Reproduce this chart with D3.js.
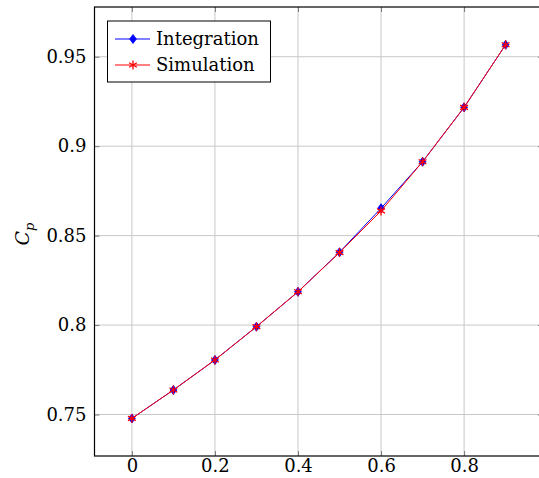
<!DOCTYPE html>
<html><head><meta charset="utf-8">
<script src="https://cdn.jsdelivr.net/npm/d3@7"></script>
<style>body{margin:0;background:#fff}svg{display:block}text{font-family:"DejaVu Serif",serif}</style>
</head><body>
<svg id="c" width="539" height="478"></svg>
<script>
const xValues = [0, 0.1, 0.2, 0.3, 0.4, 0.5, 0.6, 0.7, 0.8, 0.9];
const integration = [0.7478, 0.7637, 0.7805, 0.7991, 0.8186, 0.8407, 0.8653, 0.8913, 0.9217, 0.9567];
const simulation  = [0.7478, 0.7637, 0.7805, 0.7991, 0.8186, 0.8405, 0.8638, 0.8913, 0.9217, 0.9567];
const xTicks = [0, 0.2, 0.4, 0.6, 0.8];
const yTicks = [0.75, 0.8, 0.85, 0.9, 0.95];
const seriesNames = ["Integration", "Simulation"];

const svg = d3.select("#c");
const x = d3.scaleLinear().domain([-0.09, 0.99]).range([94.5, 543]);
const y = d3.scaleLinear().domain([0.7268, 0.9778]).range([456, 7]);
const L = 94.5, R = 543, T = 7, B = 456;

// grid
const g = svg.append("g");
g.selectAll(".gx").data(xTicks).join("line")
  .attr("x1", d => x(d)).attr("x2", d => x(d)).attr("y1", T).attr("y2", B)
  .attr("stroke", "#c8c8c8").attr("stroke-width", 1);
g.selectAll(".gy").data(yTicks).join("line")
  .attr("y1", d => y(d)).attr("y2", d => y(d)).attr("x1", L).attr("x2", R)
  .attr("stroke", "#c8c8c8").attr("stroke-width", 1);

// axes with inward ticks
const tickLen = 5;
const FS = "18px";
const axB = d3.axisBottom(x).tickValues(xTicks).tickSize(-tickLen).tickFormat(d => d3.format("")(d));
const axL = d3.axisLeft(y).tickValues(yTicks).tickSize(-tickLen).tickPadding(8).tickFormat(d => String(+d.toFixed(2)));
const axT = d3.axisTop(x).tickValues(xTicks).tickSize(-tickLen).tickFormat("");
const axR = d3.axisRight(y).tickValues(yTicks).tickSize(-tickLen).tickFormat("");
function style(sel){
  sel.select(".domain").remove();
  sel.selectAll(".tick line").attr("stroke", "#7a7a7a").attr("stroke-width", 1);
  sel.selectAll(".tick text").attr("fill", "#000").style("font-size", FS).style("font-family", '"DejaVu Serif", serif');
}
svg.append("g").attr("transform", `translate(0,${B})`).call(axB).call(style)
  .selectAll(".tick text").attr("y", 16).attr("dy", 0);
svg.append("g").attr("transform", `translate(${L},0)`).call(axL).call(style);
svg.append("g").attr("transform", `translate(0,${T})`).call(axT).call(style);
svg.append("g").attr("transform", `translate(${R},0)`).call(axR).call(style);

// frame
svg.append("rect").attr("x", L).attr("y", T).attr("width", R - L).attr("height", B - T)
  .attr("fill", "none").attr("stroke", "#000").attr("stroke-width", 1.2);

// y label
svg.append("text").attr("transform", `translate(29,234) rotate(-90)`)
  .attr("text-anchor", "middle").style("font-size", "19px").style("font-style", "italic")
  .html('C<tspan dy="5" style="font-size:13px">p</tspan>');

const line = d3.line().x(d => x(d[0])).y(d => y(d[1]));
const intData = xValues.map((v, i) => [v, integration[i]]);
const simData = xValues.map((v, i) => [v, simulation[i]]);

function diamond(sel, cx, cy){
  sel.append("path").attr("d", `M${cx},${cy-4.5}L${cx+3.4},${cy}L${cx},${cy+4.5}L${cx-3.4},${cy}Z`)
    .attr("fill", "#0000ff").attr("stroke", "#0000ff").attr("stroke-width", 0.8);
}
function asterisk(sel, cx, cy){
  const r = 4.5;
  let d = "";
  for (let k = 0; k < 3; k++) {
    const a = Math.PI / 2 + k * Math.PI / 3;
    d += `M${cx + r*Math.cos(a)},${cy - r*Math.sin(a)}L${cx - r*Math.cos(a)},${cy + r*Math.sin(a)}`;
  }
  sel.append("path").attr("d", d).attr("stroke", "#ff0000").attr("stroke-width", 1.3).attr("fill", "none");
}

const plot = svg.append("g");
plot.append("path").datum(intData).attr("d", line).attr("fill", "none").attr("stroke", "#0000ff").attr("stroke-width", 1);
intData.forEach(d => diamond(plot, x(d[0]), y(d[1])));
plot.append("path").datum(simData).attr("d", line).attr("fill", "none").attr("stroke", "#ff0000").attr("stroke-width", 1);
simData.forEach(d => asterisk(plot, x(d[0]), y(d[1])));

// legend
const lg = svg.append("g");
lg.append("rect").attr("x", 107.5).attr("y", 21).attr("width", 163).attr("height", 61)
  .attr("fill", "#fff").attr("stroke", "#000").attr("stroke-width", 1);
const rows = [39, 65];
[0, 1].forEach(i => {
  const col = i === 0 ? "#0000ff" : "#ff0000";
  lg.append("line").attr("x1", 115).attr("x2", 150).attr("y1", rows[i]).attr("y2", rows[i]).attr("stroke", col).attr("stroke-width", 1);
  if (i === 0) diamond(lg, 133, rows[i]); else asterisk(lg, 133, rows[i]);
  lg.append("text").attr("x", 156).attr("y", rows[i]).attr("dy", "0.35em").style("font-size", FS).text(seriesNames[i]);
});
</script>
</body></html>
